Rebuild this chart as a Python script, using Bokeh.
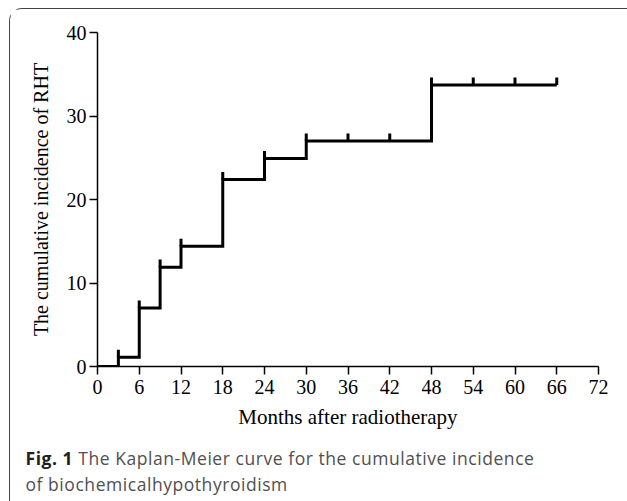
from bokeh.plotting import figure
from bokeh.models import Range1d, FixedTicker, Div
from bokeh.layouts import column
from bokeh.embed import file_html
from bokeh.resources import INLINE

# Kaplan-Meier step data (months, cumulative incidence %)
step_times = [0, 3, 6, 9, 12, 18, 24, 30, 48, 66]
step_values = [0, 1.1, 7.0, 11.9, 14.4, 22.4, 24.9, 27.0, 33.7, 33.7]
censor_times = [3, 6, 9, 12, 18, 24, 30, 36, 42, 48, 54, 60, 66]
x_ticks = [0, 6, 12, 18, 24, 30, 36, 42, 48, 54, 60, 66, 72]
y_ticks = [0, 10, 20, 30, 40]
caption_bold = "Fig. 1"
caption_line1 = "The Kaplan-Meier curve for the cumulative incidence"
caption_line2 = "of biochemicalhypothyroidism"

def value_at(t):
    v = step_values[0]
    for st, sv in zip(step_times, step_values):
        if st <= t:
            v = sv
    return v

censor_values = [value_at(t) for t in censor_times]
mark_h = 0.9
censor_tops = [v + mark_h for v in censor_values]

p = figure(width=618, height=435, output_backend="svg", toolbar_location=None,
           x_range=Range1d(0, 72), y_range=Range1d(0, 40),
           min_border_left=87, min_border_right=30, min_border_top=23, min_border_bottom=78)
p.grid.visible = False
p.outline_line_color = None
p.background_fill_color = "white"
p.border_fill_color = "white"

p.step(step_times, step_values, mode="after", line_width=3, line_color="black",
       line_join="miter")
p.segment(x0=censor_times, y0=censor_values, x1=censor_times, y1=censor_tops,
          line_width=3, line_color="black")

for ax in (p.xaxis[0], p.yaxis[0]):
    ax.axis_line_width = 1.5
    ax.axis_line_color = "black"
    ax.major_tick_line_width = 1.5
    ax.major_tick_line_color = "black"
    ax.major_tick_out = 8
    ax.major_tick_in = 0
    ax.minor_tick_line_color = None
    ax.major_label_text_font = "Liberation Serif"
    ax.major_label_text_font_size = "20px"
    ax.major_label_text_color = "black"
    ax.axis_label_text_font = "Liberation Serif"
    ax.axis_label_text_font_style = "normal"
    ax.axis_label_text_color = "black"

p.xaxis[0].axis_label_text_font_size = "21px"
p.yaxis[0].axis_label_text_font_size = "20px"
p.xaxis[0].ticker = FixedTicker(ticks=x_ticks)
p.yaxis[0].ticker = FixedTicker(ticks=y_ticks)
p.xaxis[0].axis_label = "Months after radiotherapy"
p.yaxis[0].axis_label = "The cumulative incidence of RHT"
p.xaxis[0].major_label_standoff = 5
p.yaxis[0].major_label_standoff = 3
p.xaxis[0].axis_label_standoff = 8
p.yaxis[0].axis_label_standoff = 12

div = Div(text=(f'<div style="font-family:\'Open Sans\';font-size:17.5px;line-height:26px;'
                f'letter-spacing:0.55px;color:#505050;padding-left:15.5px;padding-top:1px;'
                f'white-space:nowrap">'
                f'<span style="font-weight:bold;color:#231f20">{caption_bold}</span> '
                f'{caption_line1}<br>{caption_line2}</div>'),
          width=618, height=58, styles={"margin": "0"})

layout = column(p, div, spacing=0,
                styles={"margin-top": "8px", "margin-left": "9px",
                        "border-top": "1.5px solid #444", "border-left": "1.5px solid #444",
                        "border-top-left-radius": "13px", "background": "white"})

open("out.html", "w").write(file_html(layout, INLINE))
